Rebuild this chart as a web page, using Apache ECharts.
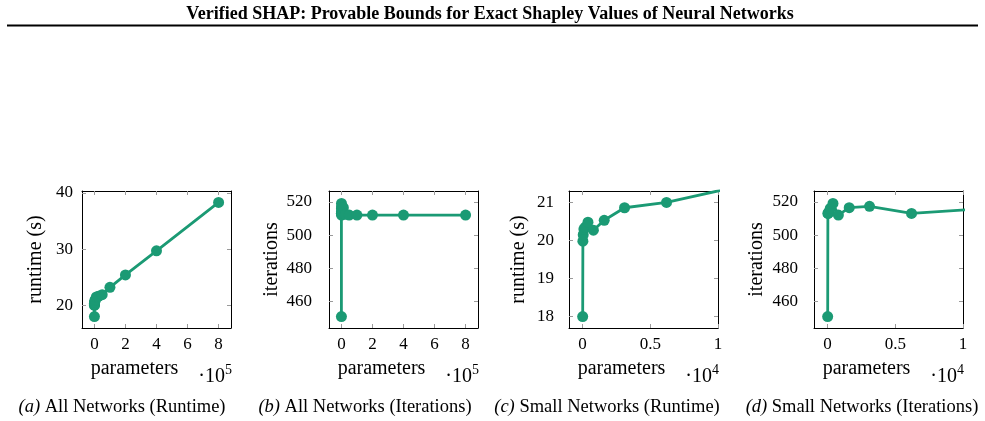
<!DOCTYPE html>
<html>
<head>
<meta charset="utf-8">
<script src="https://cdn.jsdelivr.net/npm/echarts@6/dist/echarts.min.js"></script>
<style>
html,body{margin:0;padding:0;background:#fff;}
#chart{width:985px;height:421px;}
</style>
</head>
<body>
<div id="chart"></div>
<script>
// ---- data ----
const params     = [10, 25, 50, 100, 200, 400, 800, 1600, 3100, 6200, 12500, 25000, 50000, 100000, 200000, 400000, 800000];
const runtime    = [18.0, 19.98, 20.15, 20.3, 20.35, 20.48, 20.27, 20.53, 20.86, 21.0, 21.5, 21.6, 21.9, 23.2, 25.4, 29.7, 38.3];
const iterations = [451, 513, 513, 514, 516, 519, 512, 516.5, 517.3, 513, 516.5, 512.5, 512, 512, 512, 512, 512];
const smallLimit = 12500; // "small networks" subset

const xTicksAll   = [0, 200000, 400000, 600000, 800000];
const xTicksSmall = [0, 5000, 10000];
const yTicksRuntimeAll   = [20, 30, 40];
const yTicksRuntimeSmall = [18, 19, 20, 21];
const yTicksIter         = [460, 480, 500, 520];

const titleText = "Verified SHAP: Provable Bounds for Exact Shapley Values of Neural Networks";
const captions = [
  ["(a)", " All Networks (Runtime)"],
  ["(b)", " All Networks (Iterations)"],
  ["(c)", " Small Networks (Runtime)"],
  ["(d)", " Small Networks (Iterations)"]
];
const xName = "parameters";

// ---- build ----
const FONT = "Liberation Serif";
const COLOR = "#1b9a74";

function pairs(xs, ys, limit) {
  const out = [];
  xs.forEach((x, i) => { if (limit === undefined || x <= limit) out.push([x, ys[i]]); });
  return out;
}

const panels = [
  {left: 82,  xmin: -80000, xmax: 880000, xt: xTicksAll,   xdiv: 1e5, ymin: 15.97, ymax: 40.33, yt: yTicksRuntimeAll,   yname: "runtime (s)", ygap: 36, ymargin: 9,  data: pairs(params, runtime), exp: "5", cap: 122},
  {left: 329, xmin: -80000, xmax: 880000, xt: xTicksAll,   xdiv: 1e5, ymin: 444.1, ymax: 526.5, yt: yTicksIter,        yname: "iterations",  ygap: 47, ymargin: 17, data: pairs(params, iterations), exp: "5", cap: 365},
  {left: 569, xmin: -1000,  xmax: 10000,  xt: xTicksSmall, xdiv: 1e4, ymin: 17.7,  ymax: 21.3,  yt: yTicksRuntimeSmall, yname: "runtime (s)", ygap: 40, ymargin: 15, data: pairs(params, runtime, smallLimit), exp: "4", cap: 607},
  {left: 814, xmin: -1000,  xmax: 10000,  xt: xTicksSmall, xdiv: 1e4, ymin: 444.1, ymax: 526.5, yt: yTicksIter,        yname: "iterations",  ygap: 47, ymargin: 16, data: pairs(params, iterations, smallLimit), exp: "4", cap: 862}
];

const GW = 149, GH = 137, GTOP = 191;
const grid = [], xAxis = [], yAxis = [], series = [], graphic = [];

const tickStyle = {color: "#9a9a9a", width: 1};
const lineStyle = {color: "#000", width: 1};

panels.forEach((p, i) => {
  grid.push({left: p.left, top: GTOP, width: GW, height: GH, containLabel: false});
  const fmtX = v => String(+(v / p.xdiv).toFixed(2));
  xAxis.push({
    type: "value", gridIndex: i, position: "bottom", min: p.xmin, max: p.xmax,
    axisLine: {show: true, onZero: false, lineStyle},
    axisTick: {show: true, inside: true, length: 4, customValues: p.xt, lineStyle: tickStyle},
    axisLabel: {customValues: p.xt, formatter: fmtX, margin: 8, fontFamily: FONT, fontSize: 17, color: "#000"},
    splitLine: {show: false},
    name: xName, nameLocation: "middle", nameGap: 31,
    nameTextStyle: {fontFamily: FONT, fontSize: 20, color: "#000", padding: [0, 44, 0, 0]}
  });
  xAxis.push({
    type: "value", gridIndex: i, position: "top", min: p.xmin, max: p.xmax,
    axisLine: {show: true, onZero: false, lineStyle},
    axisTick: {show: true, inside: true, length: 4, customValues: p.xt, lineStyle: tickStyle},
    axisLabel: {show: false}, splitLine: {show: false}
  });
  yAxis.push({
    type: "value", gridIndex: i, position: "left", min: p.ymin, max: p.ymax,
    axisLine: {show: true, onZero: false, lineStyle},
    axisTick: {show: true, inside: true, length: 4, customValues: p.yt, lineStyle: tickStyle},
    axisLabel: {customValues: p.yt, margin: p.ymargin, fontFamily: FONT, fontSize: 17, color: "#000"},
    splitLine: {show: false},
    name: p.yname, nameLocation: "middle", nameGap: p.ygap, nameRotate: 90,
    nameTextStyle: {fontFamily: FONT, fontSize: 20, color: "#000"}
  });
  yAxis.push({
    type: "value", gridIndex: i, position: "right", min: p.ymin, max: p.ymax,
    axisLine: {show: true, onZero: false, lineStyle},
    axisTick: {show: true, inside: true, length: 4, customValues: p.yt, lineStyle: tickStyle},
    axisLabel: {show: false}, splitLine: {show: false}
  });
  series.push({
    type: "line", xAxisIndex: 2 * i, yAxisIndex: 2 * i, data: p.data,
    symbol: "circle", symbolSize: 11, showSymbol: true, showAllSymbol: true,
    lineStyle: {color: COLOR, width: 2.8}, itemStyle: {color: COLOR},
    clip: true, silent: true
  });
  // exponent label
  graphic.push({
    type: "text", right: 985 - (p.left + GW) - 1, top: 363,
    style: {
      text: "{a|·10}{s|" + p.exp + "}",
      rich: {
        a: {fontFamily: FONT, fontSize: 20, fill: "#000", verticalAlign: "bottom", lineHeight: 24},
        s: {fontFamily: FONT, fontSize: 14, fill: "#000", verticalAlign: "top", lineHeight: 24, padding: [0, 0, 10, 0]}
      }
    }
  });
  // caption
  graphic.push({
    type: "text", x: p.cap, y: 407,
    style: {
      text: "{i|" + captions[i][0] + "}{n|" + captions[i][1] + "}",
      align: "center", verticalAlign: "middle",
      rich: {
        i: {fontFamily: FONT, fontSize: 18.5, fontStyle: "italic", fill: "#000"},
        n: {fontFamily: FONT, fontSize: 18.5, fill: "#000"}
      }
    }
  });
});

// title and rule
graphic.push({
  type: "text", x: 490, y: 14,
  style: {text: titleText, align: "center", verticalAlign: "middle", fontFamily: FONT, fontSize: 18, fontWeight: "bold", fill: "#000"}
});
graphic.push({
  type: "line", shape: {x1: 7, y1: 25.5, x2: 978, y2: 25.5},
  style: {stroke: "#000", lineWidth: 2}
});

const chart = echarts.init(document.getElementById("chart"), null, {renderer: "canvas"});
chart.setOption({animation: false, backgroundColor: "#fff", grid, xAxis, yAxis, series, graphic});
</script>
</body>
</html>
